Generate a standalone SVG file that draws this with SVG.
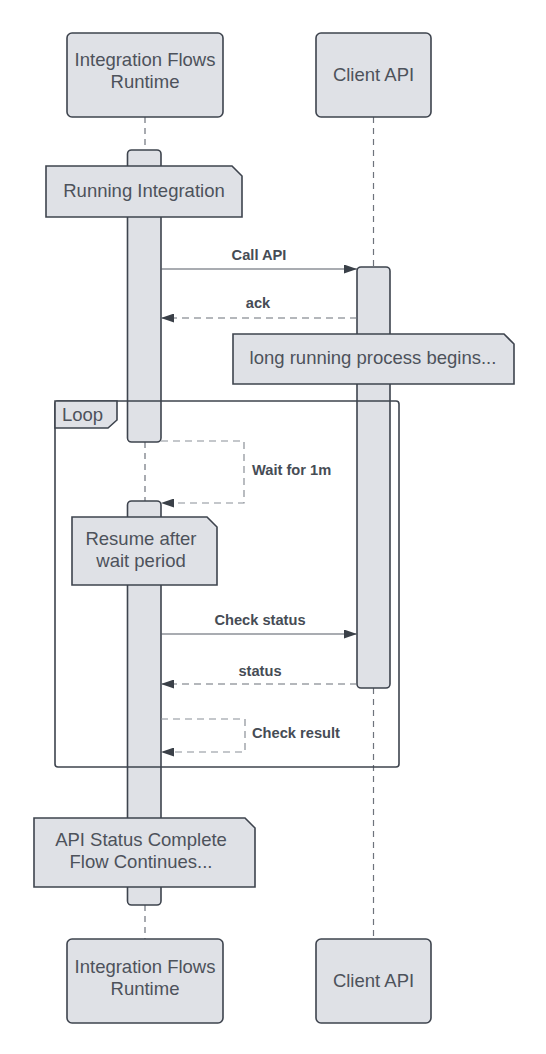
<svg xmlns="http://www.w3.org/2000/svg" width="546" height="1054" viewBox="0 0 546 1054">
<style>
.box{fill:#dfe1e6;stroke:#3e444e;stroke-width:1.6}
.bar{fill:#dfe1e6;stroke:#3e444e;stroke-width:1.6}
.life{stroke:#6e737c;stroke-width:1.2;stroke-dasharray:6 5;fill:none}
.msg{stroke:#555b64;stroke-width:1.2;fill:none}
.ret{stroke:#6a7079;stroke-width:1.2;stroke-dasharray:7 5;fill:none}
.self{stroke:#8a8f97;stroke-width:1.2;stroke-dasharray:7 5;fill:none}
.t{font-family:"Liberation Sans",Arial,sans-serif;font-size:18.5px;fill:#4d525b;text-anchor:middle}
.lbl{font-family:"Liberation Sans",Arial,sans-serif;font-size:14.67px;font-weight:bold;fill:#464c55}
.frame{fill:none;stroke:#3e444e;stroke-width:1.6}
</style>
<defs>
<marker id="ah" markerWidth="13" markerHeight="9" refX="13" refY="4.5" orient="auto" markerUnits="userSpaceOnUse">
<path d="M0,0 L13,4.5 L0,9 Z" fill="#3a4048"/>
</marker>
</defs>
<g id="lifelines">
<line class="life" x1="145" y1="117" x2="145" y2="150"/>
<line class="life" x1="145" y1="442" x2="145" y2="501"/>
<line class="life" x1="145" y1="905" x2="145" y2="939"/>
<line class="life" x1="373.5" y1="117" x2="373.5" y2="267"/>
<line class="life" x1="373.5" y1="688" x2="373.5" y2="939"/>
</g>
<g id="activations">
<rect class="bar" x="127.5" y="150" width="33.5" height="292" rx="4"/>
<rect class="bar" x="127.5" y="501" width="33.5" height="404" rx="4"/>
<rect class="bar" x="357" y="267" width="33" height="421" rx="4"/>
</g>
<g id="participant-runtime-top">
<rect class="box" x="67" y="33" width="156" height="84" rx="5"/>
<text class="t" x="145" y="66">Integration Flows</text>
<text class="t" x="145" y="88">Runtime</text>
</g>
<g id="participant-client-top">
<rect class="box" x="316" y="33" width="115" height="84" rx="5"/>
<text class="t" x="373.5" y="81">Client API</text>
</g>
<g id="note-running">
<path class="box" d="M46,166 H232 L242,176 V217 H46 Z"/>
<text class="t" x="144" y="197">Running Integration</text>
</g>
<g id="note-long">
<path class="box" d="M233,334 H504 L514,344 V384 H233 Z"/>
<text class="t" x="373" y="364">long running process begins...</text>
</g>
<g id="loop-frame">
<rect class="frame" x="55" y="401" width="344" height="366" rx="3"/>
<path class="box" d="M55,401 H117 V420 L108,428 H55 Z"/>
<text class="t" x="62" y="421" style="text-anchor:start">Loop</text>
</g>
<g id="note-resume">
<path class="box" d="M72,517 H207 L217,527 V585 H72 Z"/>
<text class="t" x="141" y="545">Resume after</text>
<text class="t" x="141" y="567">wait period</text>
</g>
<g id="note-complete">
<path class="box" d="M34,818 H245 L255,828 V887 H34 Z"/>
<text class="t" x="141" y="846">API Status Complete</text>
<text class="t" x="141" y="868">Flow Continues...</text>
</g>
<g id="connectors">
<line class="msg" x1="161" y1="269" x2="357" y2="269" marker-end="url(#ah)"/>
<text class="lbl" x="259" y="260" text-anchor="middle">Call API</text>
<line class="ret" x1="357" y1="318" x2="161" y2="318" marker-end="url(#ah)"/>
<text class="lbl" x="258" y="308" text-anchor="middle">ack</text>
<path class="self" d="M161,441 H244 V503 H161" marker-end="url(#ah)"/>
<text class="lbl" x="252" y="475">Wait for 1m</text>
<line class="msg" x1="161" y1="634" x2="357" y2="634" marker-end="url(#ah)"/>
<text class="lbl" x="260" y="625" text-anchor="middle">Check status</text>
<line class="ret" x1="357" y1="684" x2="161" y2="684" marker-end="url(#ah)"/>
<text class="lbl" x="260" y="676" text-anchor="middle">status</text>
<path class="self" d="M161,719 H245 V752 H161" marker-end="url(#ah)"/>
<text class="lbl" x="252" y="738">Check result</text>
</g>
<g id="participant-runtime-bottom">
<rect class="box" x="67" y="939" width="156" height="84" rx="5"/>
<text class="t" x="145" y="973">Integration Flows</text>
<text class="t" x="145" y="995">Runtime</text>
</g>
<g id="participant-client-bottom">
<rect class="box" x="316" y="939" width="115" height="84" rx="5"/>
<text class="t" x="373.5" y="987">Client API</text>
</g>
</svg>
